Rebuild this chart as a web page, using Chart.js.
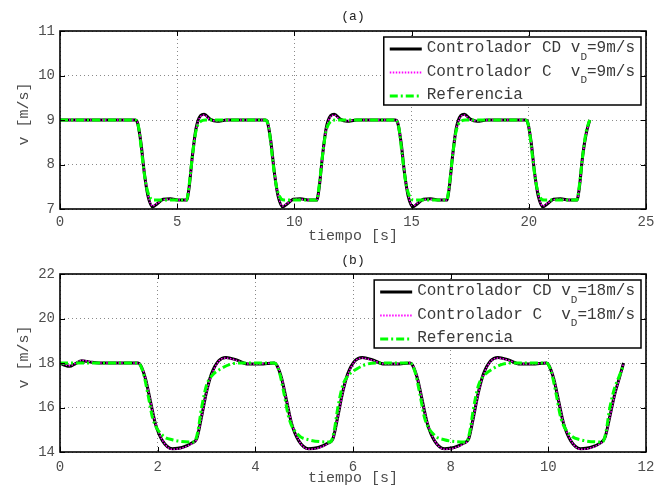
<!DOCTYPE html>
<html>
<head>
<meta charset="utf-8">
<title>v - tiempo</title>
<script src="https://cdn.jsdelivr.net/npm/chart.js@4.4.1/dist/chart.umd.min.js"></script>
<style>
	html, body { margin: 0; padding: 0; background: #fff; }
	body { position: relative; width: 671px; height: 491px; overflow: hidden; }
	canvas { display: block; position: absolute; left: 0; }
	#plotA { top: 0; }
	#plotB { top: 240px; }
</style>
</head>
<body>
<canvas id="plotA" width="671" height="250"></canvas>
<canvas id="plotB" width="671" height="251"></canvas>
<script>
// (a) v_D = 9 m/s
const tA = [0, 3.2, 3.3, 3.45, 3.6, 3.75, 3.95, 4.15, 4.4, 4.7, 5.1, 5.4, 5.5, 5.65, 5.8, 6.0, 6.15, 6.4, 6.7, 7.1,
	8.75, 8.85, 9.0, 9.15, 9.3, 9.5, 9.7, 9.95, 10.25, 10.65, 10.95, 11.05, 11.2, 11.35, 11.55, 11.7, 11.95, 12.25, 12.65,
	14.3, 14.4, 14.55, 14.7, 14.85, 15.05, 15.25, 15.5, 15.8, 16.2, 16.5, 16.6, 16.75, 16.9, 17.1, 17.25, 17.5, 17.8, 18.2,
	19.85, 19.95, 20.1, 20.25, 20.4, 20.6, 20.8, 21.05, 21.35, 21.75, 22.05, 22.15, 22.3, 22.45, 22.6];
const vA_cd = [9, 9, 8.95, 8.5, 7.8, 7.3, 7.05, 7.12, 7.22, 7.23, 7.2, 7.2, 7.45, 8.2, 8.8, 9.1, 9.13, 9.02, 8.97, 9.0,
	9, 8.95, 8.5, 7.8, 7.3, 7.05, 7.12, 7.22, 7.23, 7.2, 7.2, 7.45, 8.2, 8.8, 9.1, 9.13, 9.02, 8.97, 9.0,
	9, 8.95, 8.5, 7.8, 7.3, 7.05, 7.12, 7.22, 7.23, 7.2, 7.2, 7.45, 8.2, 8.8, 9.1, 9.13, 9.02, 8.97, 9.0,
	9, 8.95, 8.5, 7.8, 7.3, 7.05, 7.12, 7.22, 7.23, 7.2, 7.2, 7.45, 8.2, 8.7, 9.0];
const vA_c = [9, 9, 8.96, 8.52, 7.82, 7.32, 7.07, 7.13, 7.21, 7.22, 7.2, 7.2, 7.43, 8.18, 8.78, 9.08, 9.11, 9.01, 8.98, 9.0,
	9, 8.96, 8.52, 7.82, 7.32, 7.07, 7.13, 7.21, 7.22, 7.2, 7.2, 7.43, 8.18, 8.78, 9.08, 9.11, 9.01, 8.98, 9.0,
	9, 8.96, 8.52, 7.82, 7.32, 7.07, 7.13, 7.21, 7.22, 7.2, 7.2, 7.43, 8.18, 8.78, 9.08, 9.11, 9.01, 8.98, 9.0,
	9, 8.96, 8.52, 7.82, 7.32, 7.07, 7.13, 7.21, 7.22, 7.2, 7.2, 7.43, 8.18, 8.68, 9.0];
const tA_ref = [0, 3.2, 3.35, 3.5, 3.65, 3.8, 4.0, 5.4, 5.5, 5.65, 5.8, 6.0, 6.2,
	8.75, 8.9, 9.05, 9.2, 9.35, 9.55, 10.95, 11.05, 11.2, 11.35, 11.55, 11.75,
	14.3, 14.45, 14.6, 14.75, 14.9, 15.1, 16.5, 16.6, 16.75, 16.9, 17.1, 17.3,
	19.85, 20.0, 20.15, 20.3, 20.45, 20.65, 22.05, 22.15, 22.3, 22.45, 22.6];
const vA_ref = [9, 9, 8.85, 8.2, 7.6, 7.3, 7.2, 7.2, 7.5, 8.2, 8.75, 8.97, 9.0,
	9, 8.85, 8.2, 7.6, 7.3, 7.2, 7.2, 7.5, 8.2, 8.75, 8.97, 9.0,
	9, 8.85, 8.2, 7.6, 7.3, 7.2, 7.2, 7.5, 8.2, 8.75, 8.97, 9.0,
	9, 8.85, 8.2, 7.6, 7.3, 7.2, 7.2, 7.5, 8.2, 8.75, 9.0];

// (b) v_D = 18 m/s
const tB = [0, 0.1, 0.2, 0.3, 0.45, 0.6, 0.8,
	1.6, 1.65, 1.75, 1.85, 1.95, 2.1, 2.3, 2.5, 2.7, 2.8, 2.9, 3.0, 3.1, 3.25, 3.4, 3.6, 3.85, 4.1,
	4.39, 4.44, 4.54, 4.64, 4.74, 4.89, 5.09, 5.29, 5.49, 5.59, 5.69, 5.79, 5.89, 6.04, 6.19, 6.39, 6.64, 6.89,
	7.17, 7.22, 7.32, 7.42, 7.52, 7.67, 7.87, 8.07, 8.27, 8.37, 8.47, 8.57, 8.67, 8.82, 8.97, 9.17, 9.42, 9.67,
	9.96, 10.01, 10.11, 10.21, 10.31, 10.46, 10.66, 10.86, 11.06, 11.16, 11.26, 11.36, 11.45, 11.54];
const vB_cd = [18, 17.9, 17.85, 17.95, 18.1, 18.05, 18.0,
	18, 17.9, 17.3, 16.3, 15.3, 14.5, 14.15, 14.2, 14.4, 14.6, 15.6, 16.7, 17.5, 18.1, 18.25, 18.15, 17.95, 17.95,
	18, 17.9, 17.3, 16.3, 15.3, 14.5, 14.15, 14.2, 14.4, 14.6, 15.6, 16.7, 17.5, 18.1, 18.25, 18.15, 17.95, 17.95,
	18, 17.9, 17.3, 16.3, 15.3, 14.5, 14.15, 14.2, 14.4, 14.6, 15.6, 16.7, 17.5, 18.1, 18.25, 18.15, 17.95, 17.95,
	18, 17.9, 17.3, 16.3, 15.3, 14.5, 14.15, 14.2, 14.4, 14.65, 15.6, 16.6, 17.3, 18.0];
const vB_c = [18, 17.92, 17.88, 17.97, 18.12, 18.07, 18.0,
	18, 17.92, 17.35, 16.35, 15.35, 14.52, 14.12, 14.18, 14.38, 14.58, 15.55, 16.65, 17.45, 18.08, 18.22, 18.13, 17.96, 17.96,
	18, 17.92, 17.35, 16.35, 15.35, 14.52, 14.12, 14.18, 14.38, 14.58, 15.55, 16.65, 17.45, 18.08, 18.22, 18.13, 17.96, 17.96,
	18, 17.92, 17.35, 16.35, 15.35, 14.52, 14.12, 14.18, 14.38, 14.58, 15.55, 16.65, 17.45, 18.08, 18.22, 18.13, 17.96, 17.96,
	18, 17.92, 17.35, 16.35, 15.35, 14.52, 14.12, 14.18, 14.38, 14.62, 15.55, 16.55, 17.25, 17.98];
const tB_ref = [0,
	1.6, 1.7, 1.8, 1.9, 2.1, 2.3, 2.75, 2.82, 2.9, 3.0, 3.1, 3.3, 3.5, 3.7,
	4.39, 4.49, 4.59, 4.69, 4.89, 5.09, 5.54, 5.61, 5.69, 5.79, 5.89, 6.09, 6.29, 6.49,
	7.17, 7.27, 7.37, 7.47, 7.67, 7.87, 8.32, 8.39, 8.47, 8.57, 8.67, 8.87, 9.07, 9.27,
	9.96, 10.06, 10.16, 10.26, 10.46, 10.66, 11.11, 11.18, 11.26, 11.36, 11.45, 11.54];
const vB_ref = [18,
	18, 17.6, 16.6, 15.5, 14.75, 14.55, 14.45, 14.9, 16.0, 17.0, 17.4, 17.75, 17.95, 18.0,
	18, 17.6, 16.6, 15.5, 14.75, 14.55, 14.45, 14.9, 16.0, 17.0, 17.4, 17.75, 17.95, 18.0,
	18, 17.6, 16.6, 15.5, 14.75, 14.55, 14.45, 14.9, 16.0, 17.0, 17.4, 17.75, 17.95, 18.0,
	18, 17.6, 16.6, 15.5, 14.75, 14.55, 14.45, 14.9, 16.0, 16.9, 17.4, 17.9];

const FONT = "'Liberation Mono', 'DejaVu Sans Mono', monospace";
const GRAY = '#4d4d4d';

const STYLES = [
	{ color: '#000000', width: 3, dash: [] },
	{ color: '#ff00ff', width: 1.5, dash: [1.5, 1.5] },
	{ color: '#00ff00', width: 3, dash: [8, 3, 2, 3] },
];

function points(t, v) {
	return t.map((x, i) => ({ x: x, y: v[i] }));
}

function strokeSample(ctx, style, x0, x1, y) {
	ctx.save();
	ctx.strokeStyle = style.color;
	ctx.lineWidth = Math.max(style.width, 2);
	ctx.setLineDash(style.dash);
	ctx.beginPath();
	ctx.moveTo(x0, y);
	ctx.lineTo(x1, y);
	ctx.stroke();
	ctx.restore();
}

// box, inner ticks, titles and legend drawn on top of the chart
const framePlugin = {
	id: 'frame',
	afterDraw(chart, args, opts) {
		const { ctx, chartArea: a, scales } = chart;
		ctx.save();

		ctx.strokeStyle = '#000';
		ctx.lineWidth = 1;
		ctx.beginPath();
		scales.x.ticks.forEach(t => {
			const px = Math.round(scales.x.getPixelForValue(t.value)) + 0.5;
			ctx.moveTo(px, a.bottom); ctx.lineTo(px, a.bottom - 5);
			ctx.moveTo(px, a.top); ctx.lineTo(px, a.top + 5);
		});
		scales.y.ticks.forEach(t => {
			const py = Math.round(scales.y.getPixelForValue(t.value)) + 0.5;
			ctx.moveTo(a.left, py); ctx.lineTo(a.left + 5, py);
			ctx.moveTo(a.right, py); ctx.lineTo(a.right - 5, py);
		});
		ctx.stroke();
		ctx.lineWidth = 1.6;
		ctx.strokeRect(a.left, a.top, a.right - a.left, a.bottom - a.top);

		// titles
		const cx = (a.left + a.right) / 2;
		ctx.fillStyle = '#222';
		ctx.font = '13px ' + FONT;
		ctx.textAlign = 'center';
		ctx.textBaseline = 'middle';
		ctx.fillText(opts.title, cx, opts.titleY);

		ctx.fillStyle = GRAY;
		ctx.font = '15px ' + FONT;
		ctx.textBaseline = 'alphabetic';
		ctx.fillText('tiempo [s]', cx, opts.xLabelY);

		ctx.save();
		ctx.translate(24, (a.top + a.bottom) / 2 - 6);
		ctx.rotate(-Math.PI / 2);
		ctx.textBaseline = 'middle';
		ctx.fillText('v [m/s]', 0, 0);
		ctx.restore();

		// legend
		const big = '16px ' + FONT;
		const small = '11px ' + FONT;
		ctx.font = big;
		const labels = opts.labels;
		let textW = 0;
		labels.forEach(l => {
			ctx.font = big;
			let w = ctx.measureText(l[0]).width;
			if (l[1]) {
				ctx.font = small;
				w += ctx.measureText(l[1]).width;
				ctx.font = big;
				w += ctx.measureText(l[2]).width;
			}
			textW = Math.max(textW, w);
		});
		const boxW = 6 + 32 + 5 + textW + 6;
		const boxR = a.right - 5;
		const boxL = boxR - boxW;
		const boxT = a.top + 6;
		const boxH = 68;
		ctx.fillStyle = '#fff';
		ctx.fillRect(boxL, boxT, boxW, boxH);
		ctx.strokeStyle = '#000';
		ctx.lineWidth = 1.5;
		ctx.strokeRect(boxL, boxT, boxW, boxH);

		labels.forEach((l, i) => {
			const y = boxT + 11 + i * 23.5;
			strokeSample(ctx, STYLES[i], boxL + 6, boxL + 38, y + 1);
			let x = boxL + 43;
			ctx.fillStyle = '#3a3a3a';
			ctx.textAlign = 'left';
			ctx.textBaseline = 'middle';
			ctx.font = big;
			ctx.fillText(l[0], x, y);
			if (l[1]) {
				x += ctx.measureText(l[0]).width;
				ctx.font = small;
				ctx.fillText(l[1], x, y + 9);
				x += ctx.measureText(l[1]).width;
				ctx.font = big;
				ctx.fillText(l[2], x, y);
			}
		});

		ctx.restore();
	}
};

function makeChart(id, cfg) {
	const datasets = cfg.series.map((s, i) => ({
		data: points(s[0], s[1]),
		borderColor: STYLES[i].color,
		borderWidth: STYLES[i].width,
		borderDash: STYLES[i].dash,
		pointRadius: 0,
		fill: false,
		cubicInterpolationMode: 'monotone',
		order: 3 - i,
	}));

	return new Chart(document.getElementById(id), {
		type: 'line',
		data: { datasets: datasets },
		plugins: [framePlugin],
		options: {
			responsive: false,
			animation: false,
			layout: { padding: { left: 0, right: 25, top: cfg.top, bottom: 0 } },
			plugins: {
				legend: { display: false },
				tooltip: { enabled: false },
				frame: { title: cfg.title, titleY: cfg.titleY, xLabelY: cfg.xLabelY, labels: cfg.labels },
			},
			scales: {
				x: {
					type: 'linear',
					min: cfg.xMin, max: cfg.xMax,
					afterFit: s => { s.height = cfg.xAxisH; },
					ticks: { stepSize: cfg.xStep, color: GRAY, padding: cfg.tickPad, font: { family: FONT, size: 14 } },
					grid: { color: '#8a8a8a', lineWidth: 1, drawTicks: false },
					border: { display: false, dash: [1, 3] },
				},
				y: {
					min: cfg.yMin, max: cfg.yMax,
					afterFit: s => { s.width = 60; },
					ticks: { stepSize: cfg.yStep, color: GRAY, padding: 5, font: { family: FONT, size: 14 } },
					grid: { color: '#8a8a8a', lineWidth: 1, drawTicks: false },
					border: { display: false, dash: [1, 3] },
				},
			},
		},
	});
}

makeChart('plotA', {
	title: '(a)', titleY: 17, xLabelY: 240, top: 31, xAxisH: 41, tickPad: 5,
	xMin: 0, xMax: 25, xStep: 5, yMin: 7, yMax: 11, yStep: 1,
	series: [[tA, vA_cd], [tA, vA_c], [tA_ref, vA_ref]],
	labels: [['Controlador CD v', 'D', '=9m/s'], ['Controlador C  v', 'D', '=9m/s'], ['Referencia']],
});

makeChart('plotB', {
	title: '(b)', titleY: 21, xLabelY: 241.5, top: 34, xAxisH: 39, tickPad: 7,
	xMin: 0, xMax: 12, xStep: 2, yMin: 14, yMax: 22, yStep: 2,
	series: [[tB, vB_cd], [tB, vB_c], [tB_ref, vB_ref]],
	labels: [['Controlador CD v', 'D', '=18m/s'], ['Controlador C  v', 'D', '=18m/s'], ['Referencia']],
});
</script>
</body>
</html>
